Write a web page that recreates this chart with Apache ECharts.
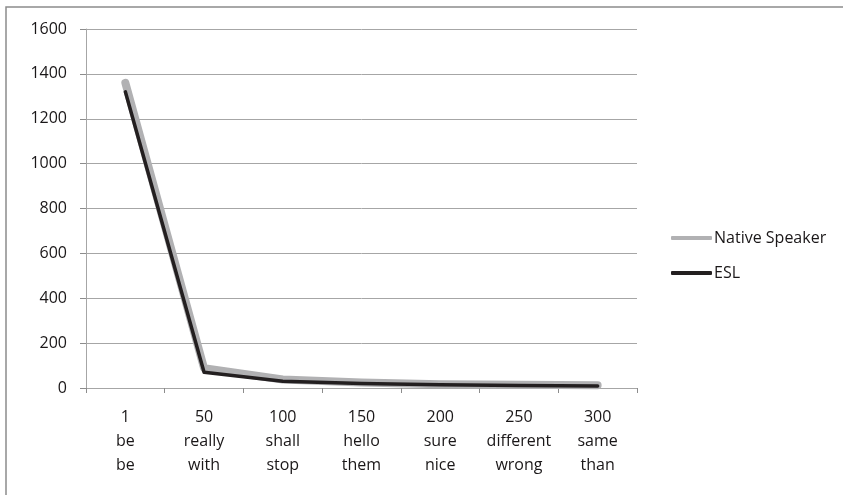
<!DOCTYPE html>
<html>
<head>
<meta charset="utf-8">
<script src="https://cdn.jsdelivr.net/npm/echarts@6/dist/echarts.min.js"></script>
<style>
html,body{margin:0;padding:0;background:#fff;}
#c{width:843px;height:495px;}
</style>
</head>
<body>
<div id="c"></div>
<script>
const ranks = ["1", "50", "100", "150", "200", "250", "300"];
const nativeWords = ["be", "really", "shall", "hello", "sure", "different", "same"];
const eslWords = ["be", "with", "stop", "them", "nice", "wrong", "than"];
const nativeSpeaker = [1360, 88, 38, 24, 17, 14, 12];
const esl = [1320, 70, 30, 20, 14, 11, 9];
const yTicks = { min: 0, max: 1600, interval: 200 };

const categories = ranks.map((r, i) => r + "\n" + nativeWords[i] + "\n" + eslWords[i]);
const font = "'Open Sans', 'Liberation Sans', sans-serif";
const textColor = '#1a1718';
const fs = 16;

const chart = echarts.init(document.getElementById('c'), null, { renderer: 'canvas' });
chart.setOption({
  backgroundColor: '#ffffff',
  animation: false,
  graphic: [{
    type: 'rect',
    shape: { x: 6, y: 7, width: 850, height: 500 },
    style: { fill: 'none', stroke: '#8c8c8c', lineWidth: 1.5 },
    silent: true,
    z: -1
  }],
  grid: { left: 86, right: 206, top: 29, bottom: 107, containLabel: false },
  legend: {
    orient: 'vertical',
    left: 666,
    top: 225,
    itemWidth: 41,
    itemHeight: 4,
    itemGap: 19,
    icon: 'roundRect',
    textStyle: { fontFamily: font, fontSize: fs, color: textColor, padding: [0, 0, 0, -3] },
    data: [
      { name: 'Native Speaker', itemStyle: { color: '#b1b1b3' } },
      { name: 'ESL', itemStyle: { color: '#231f20' } }
    ]
  },
  xAxis: {
    type: 'category',
    data: categories,
    boundaryGap: true,
    axisLine: { lineStyle: { color: '#a6a6a6', width: 1 } },
    axisTick: { show: true, interval: 0, length: 5, inside: false, lineStyle: { color: '#8c8c8c' } },
    axisLabel: {
      interval: 0,
      margin: 17,
      fontFamily: font,
      fontSize: fs,
      lineHeight: 24,
      color: textColor,
      align: 'center'
    },
    splitLine: { show: false }
  },
  yAxis: {
    type: 'value',
    min: yTicks.min,
    max: yTicks.max,
    interval: yTicks.interval,
    axisLine: { show: true, lineStyle: { color: '#a6a6a6', width: 1 } },
    axisTick: { show: true, length: 6, lineStyle: { color: '#8c8c8c' } },
    axisLabel: { margin: 19, fontFamily: font, fontSize: fs, color: textColor, formatter: v => String(v) },
    splitLine: { show: true, lineStyle: { color: '#a6a6a6', width: 1 } }
  },
  series: [
    {
      name: 'Native Speaker',
      type: 'line',
      data: nativeSpeaker,
      symbol: 'none',
      lineStyle: { color: '#b1b1b3', width: 8, cap: 'round', join: 'round' },
      itemStyle: { color: '#b1b1b3' },
      z: 2
    },
    {
      name: 'ESL',
      type: 'line',
      data: esl,
      symbol: 'none',
      lineStyle: { color: '#231f20', width: 3.5, cap: 'round', join: 'round' },
      itemStyle: { color: '#231f20' },
      z: 3
    }
  ]
});
</script>
</body>
</html>
